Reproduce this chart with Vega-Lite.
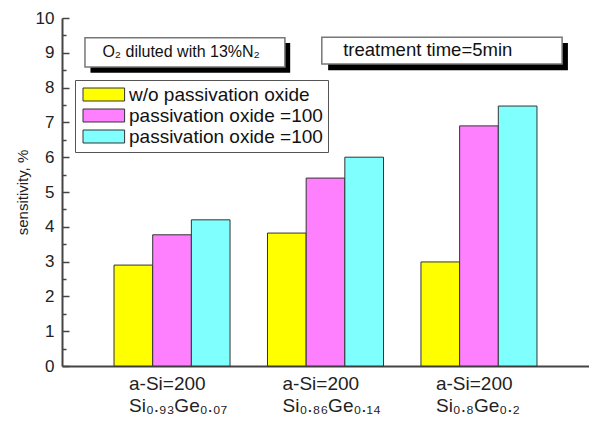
{
  "$schema": "https://vega.github.io/schema/vega-lite/v6.json",
  "width": 527,
  "height": 348,
  "autosize": {"type": "none"},
  "padding": {"left": 62, "top": 18, "right": 0, "bottom": 57},
  "background": "white",
  "config": {"view": {"stroke": null}, "font": "Liberation Sans"},
  "layer": [
    {
      "data": {
        "values": [
          {"group": "G1", "series": "A", "sensitivity": 2.9},
          {"group": "G1", "series": "B", "sensitivity": 3.77},
          {"group": "G1", "series": "C", "sensitivity": 4.2},
          {"group": "G2", "series": "A", "sensitivity": 3.82},
          {"group": "G2", "series": "B", "sensitivity": 5.4},
          {"group": "G2", "series": "C", "sensitivity": 6.0},
          {"group": "G3", "series": "A", "sensitivity": 2.99},
          {"group": "G3", "series": "B", "sensitivity": 6.9},
          {"group": "G3", "series": "C", "sensitivity": 7.47}
        ]
      },
      "mark": {"type": "bar", "stroke": "#333", "strokeWidth": 1},
      "encoding": {
        "x": {
          "field": "group", "type": "nominal", "sort": ["G1", "G2", "G3"],
          "scale": {"paddingInner": 0.244, "paddingOuter": 0.339},
          "axis": {
            "title": null, "labelAngle": 0, "ticks": false,
            "domainColor": "#444", "domainWidth": 2,
            "labelFontSize": 19, "labelColor": "#222", "labelPadding": 8,
            "labelBaseline": "top", "labelLineHeight": 22,
            "labelAlign": "left", "labelOffset": -43,
            "labelExpr": "datum.value == 'G1' ? ['a-Si=200', 'Si₀.₉₃Ge₀.₀₇'] : datum.value == 'G2' ? ['a-Si=200', 'Si₀.₈₆Ge₀.₁₄'] : ['a-Si=200', 'Si₀.₈Ge₀.₂']"
          }
        },
        "xOffset": {"field": "series", "type": "nominal", "sort": ["A", "B", "C"], "scale": {"paddingInner": 0, "paddingOuter": 0}},
        "y": {
          "field": "sensitivity", "type": "quantitative",
          "scale": {"domain": [0, 10], "nice": false},
          "axis": {
            "orient": "left",
            "title": "sensitivity, %", "titleFontSize": 15, "titleFontWeight": "normal", "titleColor": "#222", "titlePadding": 5,
            "values": [0, 0.5, 1, 1.5, 2, 2.5, 3, 3.5, 4, 4.5, 5, 5.5, 6, 6.5, 7, 7.5, 8, 8.5, 9, 9.5, 10],
            "labelExpr": "datum.value % 1 === 0 ? format(datum.value, 'd') : ''",
            "labelOverlap": false,
            "labelFontSize": 17, "labelColor": "#222", "labelPadding": 15,
            "ticks": true,
            "tickSize": {"condition": {"test": "datum.value % 1 === 0", "value": -7}, "value": -4},
            "tickColor": "#444", "tickWidth": 1.5,
            "domainColor": "#444", "domainWidth": 2, "grid": false
          }
        },
        "color": {
          "field": "series", "type": "nominal", "sort": ["A", "B", "C"],
          "scale": {"domain": ["A", "B", "C"], "range": ["#FFFF00", "#FF80FF", "#80FFFF"]},
          "legend": {
            "orient": "none", "legendX": 13, "legendY": 62, "title": null,
            "labelExpr": "datum.value == 'A' ? 'w/o passivation oxide' : 'passivation oxide =100'",
            "labelFontSize": 19, "labelColor": "#111", "labelFont": "Liberation Sans", "labelLimit": 400,
            "symbolType": "M-1,-1H5.4V1H-1Z", "symbolSize": 169,
            "symbolStrokeColor": "#333", "symbolStrokeWidth": 1, "symbolOpacity": 1,
            "labelOffset": 30, "padding": 5, "rowPadding": 1,
            "strokeColor": "#555", "fillColor": "white"
          }
        }
      }
    },
    {
      "data": {"values": [{}]},
      "layer": [
        {
          "mark": {"type": "rect", "fill": "black"},
          "encoding": {
            "x": {"datum": 5.4, "type": "quantitative", "scale": {"domain": [0, 100], "nice": false, "zero": false}, "axis": null},
            "x2": {"datum": 43.3},
            "y": {"datum": 8.43, "type": "quantitative", "axis": null},
            "y2": {"datum": 9.28}
          }
        },
        {
          "mark": {"type": "rect", "fill": "white", "stroke": "#777", "strokeWidth": 1.5},
          "encoding": {
            "x": {"datum": 4.36, "type": "quantitative", "axis": null},
            "x2": {"datum": 42.3},
            "y": {"datum": 8.59, "type": "quantitative", "axis": null},
            "y2": {"datum": 9.43}
          }
        },
        {
          "mark": {"type": "text", "fontSize": 16, "color": "#111", "align": "center", "baseline": "middle"},
          "encoding": {
            "x": {"datum": 22.6, "type": "quantitative", "axis": null},
            "y": {"datum": 9.02, "type": "quantitative", "axis": null},
            "text": {"value": "O₂ diluted with 13%N₂"}
          }
        },
        {
          "mark": {"type": "rect", "fill": "black"},
          "encoding": {
            "x": {"datum": 50.5, "type": "quantitative", "axis": null},
            "x2": {"datum": 96.0},
            "y": {"datum": 8.5, "type": "quantitative", "axis": null},
            "y2": {"datum": 9.28}
          }
        },
        {
          "mark": {"type": "rect", "fill": "white", "stroke": "#777", "strokeWidth": 1.5},
          "encoding": {
            "x": {"datum": 49.3, "type": "quantitative", "axis": null},
            "x2": {"datum": 94.9},
            "y": {"datum": 8.68, "type": "quantitative", "axis": null},
            "y2": {"datum": 9.45}
          }
        },
        {
          "mark": {"type": "text", "fontSize": 18.5, "color": "#111", "align": "center", "baseline": "middle"},
          "encoding": {
            "x": {"datum": 69.4, "type": "quantitative", "axis": null},
            "y": {"datum": 9.07, "type": "quantitative", "axis": null},
            "text": {"value": "treatment time=5min"}
          }
        }
      ]
    }
  ],
  "resolve": {"scale": {"x": "independent"}, "axis": {"y": "independent"}}
}
